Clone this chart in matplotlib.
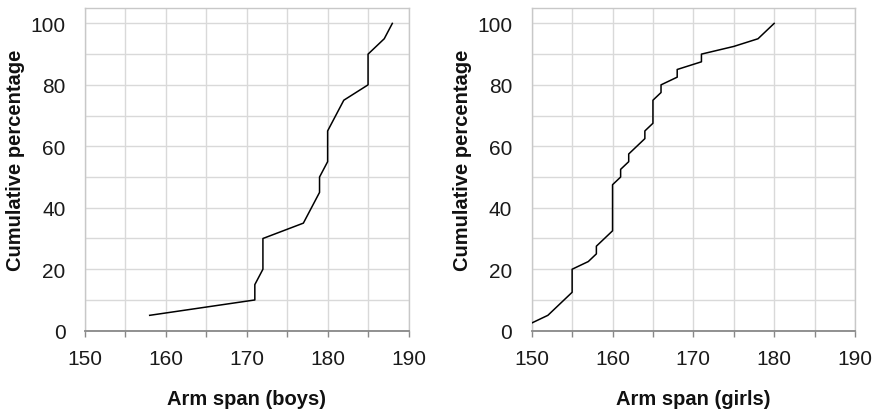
import numpy as np
import matplotlib.pyplot as plt
from matplotlib.ticker import MultipleLocator

plt.rcParams['font.family'] = ['Liberation Sans', 'DejaVu Sans']

# Cumulative percentage curves (sorted arm span vs. cumulative %)
boys_span = [158, 171, 171, 172, 172, 177, 179, 179, 180, 180, 182, 185, 185, 187, 188]
boys_cum = [5, 10, 15, 20, 30, 35, 45, 50, 55, 65, 75, 80, 90, 95, 100]

girls_span = [150, 152, 155, 155, 157, 158, 158, 160, 160, 161, 161, 162, 162,
              164, 164, 165, 165, 166, 166, 168, 168, 171, 171, 175, 178, 180]
girls_cum = [2.5, 5, 12.5, 20, 22.5, 25, 27.5, 32.5, 47.5, 50, 52.5, 55, 57.5,
             62.5, 65, 67.5, 75, 77.5, 80, 82.5, 85, 87.5, 90, 92.5, 95, 100]

x_ticks = [150, 160, 170, 180, 190]
y_ticks = [0, 20, 40, 60, 80, 100]

fig = plt.figure(figsize=(8.77, 4.10), dpi=100)
ax1 = fig.add_axes([0.0969, 0.191, 0.3689, 0.787])
ax2 = fig.add_axes([0.6063, 0.191, 0.3686, 0.787])


def style(ax, xs, ys, xlabel):
    ax.plot(xs, ys, color='black', lw=1.1, zorder=3)
    ax.set_xlim(150, 190)
    ax.set_ylim(0, 105)
    ax.set_xticks(x_ticks)
    ax.xaxis.set_minor_locator(MultipleLocator(5))
    ax.set_yticks(y_ticks)
    ax.yaxis.set_minor_locator(MultipleLocator(10))
    ax.grid(True, which='both', color='#d9d9d9', lw=1.0, zorder=0)
    ax.tick_params(axis='x', which='both', direction='out', length=4,
                   width=1.0, color='#888888', labelsize=15, pad=9,
                   labelcolor='#1a1a1a')
    ax.tick_params(axis='y', which='both', length=0, labelsize=15, pad=14,
                   labelcolor='#1a1a1a')
    for side in ['top', 'right', 'left']:
        ax.spines[side].set_color('#c8c8c8')
        ax.spines[side].set_linewidth(1.0)
    ax.spines['bottom'].set_color('#888888')
    ax.spines['bottom'].set_linewidth(1.3)
    ax.set_xlabel(xlabel, fontsize=14.5, fontweight='bold', color='#111111')
    ax.set_ylabel('Cumulative percentage', fontsize=14.5, fontweight='bold',
                  color='#111111')
    ax.xaxis.set_label_coords(0.5, -0.18)
    ax.yaxis.set_label_coords(-0.185, 0.53)


style(ax1, boys_span, boys_cum, 'Arm span (boys)')
style(ax2, girls_span, girls_cum, 'Arm span (girls)')

fig.savefig('out.png', dpi=100)
